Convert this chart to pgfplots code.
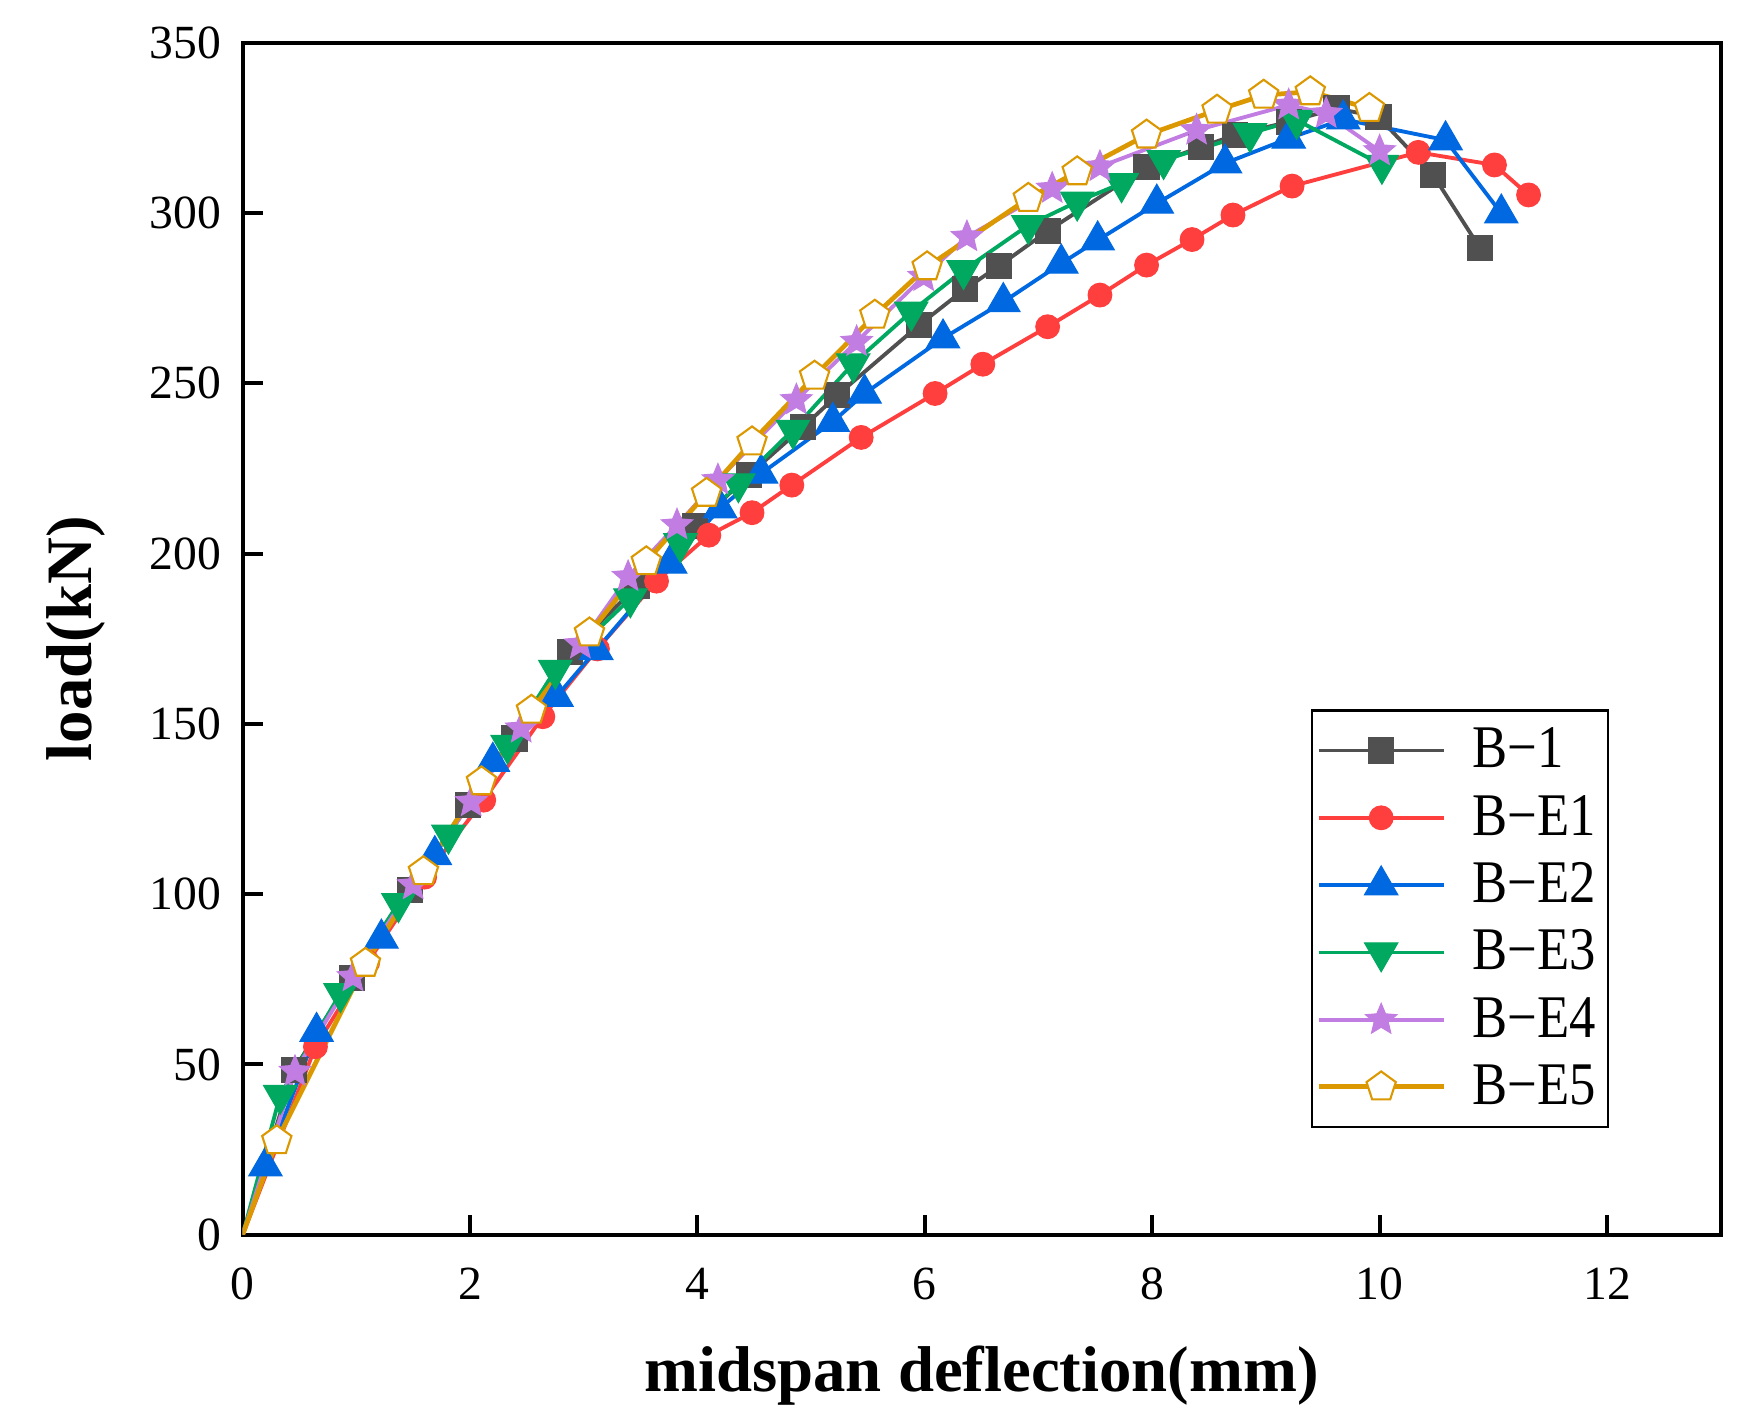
\documentclass[border=0pt]{standalone}
\usepackage{fontspec}
\setmainfont{Liberation Serif}
\newfontfamily\legfont[FakeStretch=0.87]{Liberation Serif}
\usepackage{pgfplots}
\pgfplotsset{compat=1.18}
\usetikzlibrary{plotmarks}

\definecolor{cB}{RGB}{80,80,80}
\definecolor{cR}{RGB}{255,62,62}
\definecolor{cBl}{RGB}{0,105,225}
\definecolor{cG}{RGB}{0,168,96}
\definecolor{cP}{RGB}{193,125,225}
\definecolor{cO}{RGB}{219,152,0}

\pgfdeclareplotmark{fstar}{%
  \pgfpathmoveto{\pgfpointpolar{90}{\pgfplotmarksize}}%
  \pgfpathlineto{\pgfpointpolar{126}{0.45\pgfplotmarksize}}%
  \pgfpathlineto{\pgfpointpolar{162}{\pgfplotmarksize}}%
  \pgfpathlineto{\pgfpointpolar{198}{0.45\pgfplotmarksize}}%
  \pgfpathlineto{\pgfpointpolar{234}{\pgfplotmarksize}}%
  \pgfpathlineto{\pgfpointpolar{270}{0.45\pgfplotmarksize}}%
  \pgfpathlineto{\pgfpointpolar{306}{\pgfplotmarksize}}%
  \pgfpathlineto{\pgfpointpolar{342}{0.45\pgfplotmarksize}}%
  \pgfpathlineto{\pgfpointpolar{18}{\pgfplotmarksize}}%
  \pgfpathlineto{\pgfpointpolar{54}{0.45\pgfplotmarksize}}%
  \pgfpathclose
  \pgfusepathqfillstroke
}

\begin{document}
\begin{tikzpicture}
\useasboundingbox (-69.34pt,-54.94pt) rectangle (430.66pt,352.77pt);
\begin{axis}[
  scale only axis,
  width=422.29pt, height=340.57pt,
  xmin=0, xmax=13, ymin=0, ymax=350,
  xtick={0,2,4,6,8,10,12},
  ytick={0,50,100,150,200,250,300,350},
  xtick pos=lower, ytick pos=left,
  tick align=inside,
  major tick length=5.7pt,
  every tick/.style={black, line width=1.15pt},
  axis line style={line width=1.15pt},
  /pgf/number format/assume math mode=true,
  ticklabel style={font=\fontsize{13.6}{14}\selectfont},
  xticklabel shift=6pt,
  yticklabel shift=2.6pt,
  xlabel={midspan deflection(mm)},
  ylabel={load(kN)},
  label style={font=\bfseries\fontsize{18.5}{20}\selectfont},
  xlabel style={at={(axis description cs:0.5,-0.1186)}, anchor=center},
  ylabel style={at={(axis description cs:-0.1129,0.5)}, anchor=center},
  legend image code/.code={\draw[mark repeat=2,mark phase=2] plot coordinates {(0pt,0pt) (17.85pt,0pt) (35.7pt,0pt)};},
  legend style={at={(axis description cs:0.7228,0.4408)}, anchor=north west,
    draw=black, line width=0.65pt, inner xsep=1.2pt, inner ysep=4pt,
    font=\legfont\fontsize{17.3}{19}\selectfont,
    nodes={inner xsep=2.4pt, inner ysep=1pt},
    row sep=4.3pt,
    /tikz/every odd column/.append style={column sep=5.1pt}},
  legend cell align=left,
  every axis plot/.append style={mark repeat=1, mark phase=2},
]
\addplot[cB, line width=1.1pt, mark=square*, mark size=3.6pt, mark options={solid, fill=cB, draw=cB, line width=0.3pt}] coordinates {
(0,0) (0.45,48.4) (0.96,75.3) (1.47,101.2) (1.98,126.2) (2.39,145.7) (2.88,171.2) (3.47,190.5) (3.98,208) (4.45,223)
(4.93,237.2) (5.23,246.5) (5.95,267.1) (6.35,277.6) (6.65,284.4) (7.08,294.7) (7.95,313.6) (8.43,319.4) (8.73,322.9)
(9.20,326.8) (9.62,330.7) (9.99,328.2) (10.47,311.2) (10.88,289.8)};
\addlegendentry{B−1}
\addplot[cR, line width=1.1pt, mark=*, mark size=3.4pt, mark options={solid, fill=cR, draw=cR, line width=0.3pt}] coordinates {
(0,0) (0.64,55.2) (1.1,80) (1.6,105) (2.12,127.6) (2.64,152.1) (3.12,172) (3.64,191.9) (4.10,205.4) (4.48,212.0)
(4.83,220.1) (5.44,234.1) (6.09,247.0) (6.51,255.6) (7.08,266.6) (7.54,275.9) (7.95,284.7) (8.35,292.2) (8.71,299.4)
(9.23,307.9) (10.34,317.8) (11.01,314.1) (11.31,305.3)};
\addlegendentry{B−E1}
\addplot[cBl, line width=1.1pt, mark=triangle*, mark size=5.5pt, mark options={solid, fill=cBl, draw=cBl, line width=0.3pt}] coordinates {
(0,0) (0.20,20.1) (0.65,59.6) (1.22,87.0) (1.69,111.5) (2.20,138.9) (2.76,158.0) (3.11,171.7) (3.76,197.1) (4.20,213.3)
(4.56,223.5) (5.19,238.7) (5.47,247.0) (6.16,263.2) (6.69,273.9) (7.20,285.2) (7.52,292.0) (8.04,302.8) (8.64,314.6)
(9.20,321.9) (9.68,327.5) (10.58,321.4) (11.07,299.9)};
\addlegendentry{B−E2}
\addplot[cG, line width=1.1pt, mark=triangle*, mark size=5.5pt, mark options={solid, rotate=180, fill=cG, draw=cG, line width=0.3pt}] coordinates {
(0,0) (0.33,41.0) (0.86,70.9) (1.37,97.3) (1.81,117.4) (2.33,143.8) (2.75,165.8) (3.41,186.8) (3.85,203.0) (4.36,220.6)
(4.84,236.3) (5.37,255.8) (5.88,271.0) (6.34,283.2) (6.91,296.4) (7.34,303.3) (7.73,308.7) (8.10,315.5) (8.86,323.4)
(9.27,327.3) (10.02,314.1)};
\addlegendentry{B−E3}
\addplot[cP, line width=1.1pt, mark=fstar, mark size=4.7pt, mark options={solid, fill=cP, draw=cP, line width=0.3pt}] coordinates {
(0,0) (0.46,47.9) (0.97,75.7) (1.50,102.7) (2.01,127.1) (2.45,148.7) (2.97,173.4) (3.39,193.2) (3.82,208.4) (4.18,221.6)
(4.87,245.1) (5.40,262.2) (5.99,281.3) (6.37,293.0) (7.12,307.2) (7.54,313.6) (8.39,324.3) (9.20,331.7) (9.53,329.2)
(10.00,318.2)};
\addlegendentry{B−E4}
\addplot[cO, line width=1.35pt, mark=pentagon*, mark size=4.4pt, mark options={solid, fill=white, draw=cO, line width=0.6pt}] coordinates {
(0,0) (0.30,27.6) (1.08,79.7) (1.59,106.6) (2.10,133.0) (2.54,154.0) (3.05,176.7) (3.55,197.6) (4.08,217.7) (4.48,232.8)
(5.03,252.1) (5.56,270.0) (6.02,284.2) (6.91,304.3) (7.34,312.1) (7.95,322.9) (8.57,330.2) (8.98,334.6) (9.39,335.6)
(9.91,330.7)};
\addlegendentry{B−E5}
\end{axis}
\end{tikzpicture}
\end{document}
